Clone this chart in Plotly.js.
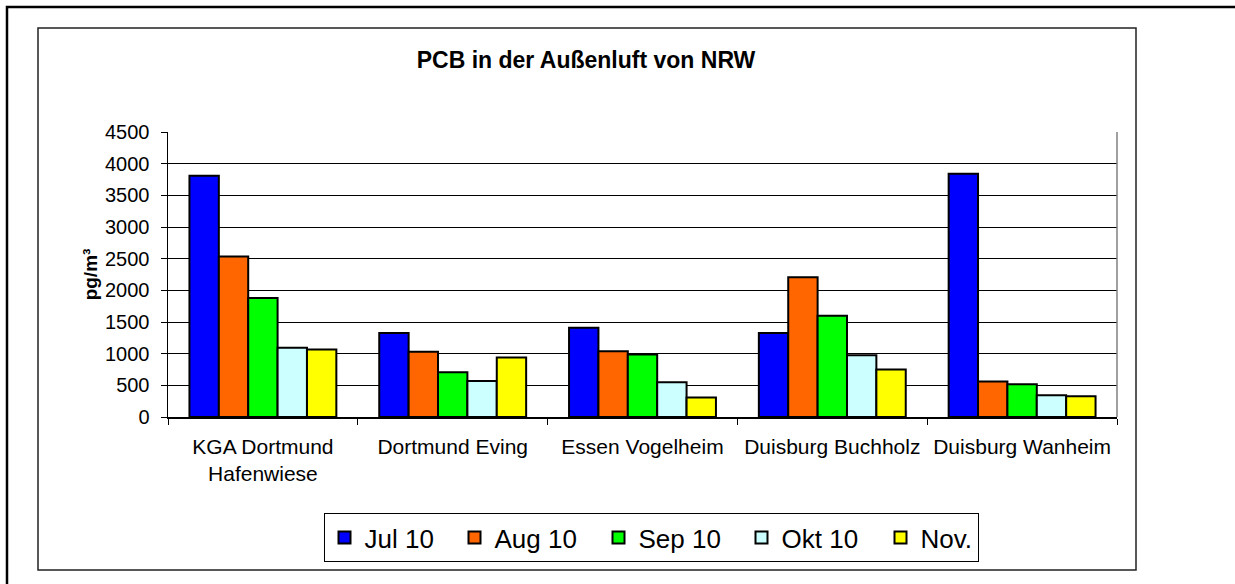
<!DOCTYPE html>
<html>
<head>
<meta charset="utf-8">
<script src="https://cdn.plot.ly/plotly-3.0.1.min.js"></script>
<style>html,body{margin:0;padding:0;background:#fff;}#chart{width:1235px;height:584px;}</style>
</head>
<body>
<div id="chart"></div>
<script>
const categories = ["KGA Dortmund<br>Hafenwiese", "Dortmund Eving", "Essen Vogelheim", "Duisburg Buchholz", "Duisburg Wanheim"];
const seriesNames = ["Jul 10", "Aug 10", "Sep 10", "Okt 10", "Nov."];
const jul10 = [3810, 1325, 1409, 1325, 3842];
const aug10 = [2533, 1029, 1040, 2206, 559];
const sep10 = [1879, 707, 987, 1599, 517];
const okt10 = [1092, 570, 549, 976, 343];
const nov = [1066, 939, 306, 749, 327];
const yTicks = [0, 500, 1000, 1500, 2000, 2500, 3000, 3500, 4000, 4500];

const colors = ["#0000FF", "#FF6600", "#00FF00", "#CCFFFF", "#FFFF00"];
const legendWidths = [85, 99, 98, 94, 0];
const values = [jul10, aug10, sep10, okt10, nov];
const FONT = "Liberation Sans, Arial, sans-serif";

const W = 1235, H = 584;
const L = 168, R = 1117, T = 132, B = 417;
const px = x => (x - L) / (R - L);
const py = y => (B - y) / (B - T);

const traces = values.map((v, i) => {
  const t = {
    type: "bar",
    name: seriesNames[i],
    x: categories,
    y: v,
    marker: {color: colors[i], line: {color: "#000", width: 2}},
    hoverinfo: "x+y+name"
  };
  if (legendWidths[i]) t.legendwidth = legendWidths[i];
  return t;
});

const layout = {
  width: W, height: H,
  margin: {l: L, r: W - R, t: T, b: H - B, pad: 0},
  paper_bgcolor: "#fff", plot_bgcolor: "#fff",
  font: {family: FONT, color: "#000", size: 19},
  barmode: "group",
  bargap: 0.226, bargroupgap: 0,
  title: {
    text: "<b>PCB in der Außenluft von NRW</b>",
    font: {family: FONT, size: 23, color: "#000"},
    xref: "container", x: 586 / W, xanchor: "center",
    yref: "container", y: 1 - 60 / H, yanchor: "middle"
  },
  xaxis: {
    type: "category",
    tickson: "boundaries",
    ticks: "outside", ticklen: 6, tickcolor: "#000", tickwidth: 1,
    showline: true, linecolor: "#000", linewidth: 1.5,
    showgrid: false,
    ticklabelstandoff: 10,
    tickfont: {family: FONT, size: 21, color: "#000"},
    fixedrange: true
  },
  yaxis: {
    range: [0, 4500],
    tickvals: yTicks,
    ticktext: yTicks.map(String),
    ticks: "outside", ticklen: 6, tickcolor: "#000", tickwidth: 1,
    showline: true, linecolor: "#000", linewidth: 1.5,
    showgrid: true, gridcolor: "#000", gridwidth: 1,
    zeroline: false,
    ticklabelstandoff: 7,
    tickfont: {family: FONT, size: 20, color: "#000"},
    title: {text: "<b>pg/m³</b>", font: {family: FONT, size: 19, color: "#000"}, standoff: 2},
    fixedrange: true
  },
  legend: {
    orientation: "h",
    x: px(651), xanchor: "center",
    y: py(513), yanchor: "top",
    bordercolor: "#000", borderwidth: 1,
    bgcolor: "#fff",
    font: {family: FONT, size: 26, color: "#000"},
    traceorder: "normal"
  },
  shapes: [
    {type: "rect", xref: "paper", yref: "paper", x0: px(7), x1: px(1245), y0: py(7), y1: py(600), line: {color: "#000", width: 2.5}, fillcolor: "rgba(0,0,0,0)", layer: "below"},
    {type: "rect", xref: "paper", yref: "paper", x0: px(38), x1: px(1136), y0: py(28), y1: py(570), line: {color: "#222", width: 1.5}, fillcolor: "rgba(0,0,0,0)", layer: "below"},
    {type: "line", xref: "paper", yref: "paper", x0: 1, x1: 1, y0: 0, y1: 1, line: {color: "#808080", width: 1.5}}
  ]
};

Plotly.newPlot("chart", traces, layout, {displayModeBar: false, staticPlot: true});
</script>
</body>
</html>
